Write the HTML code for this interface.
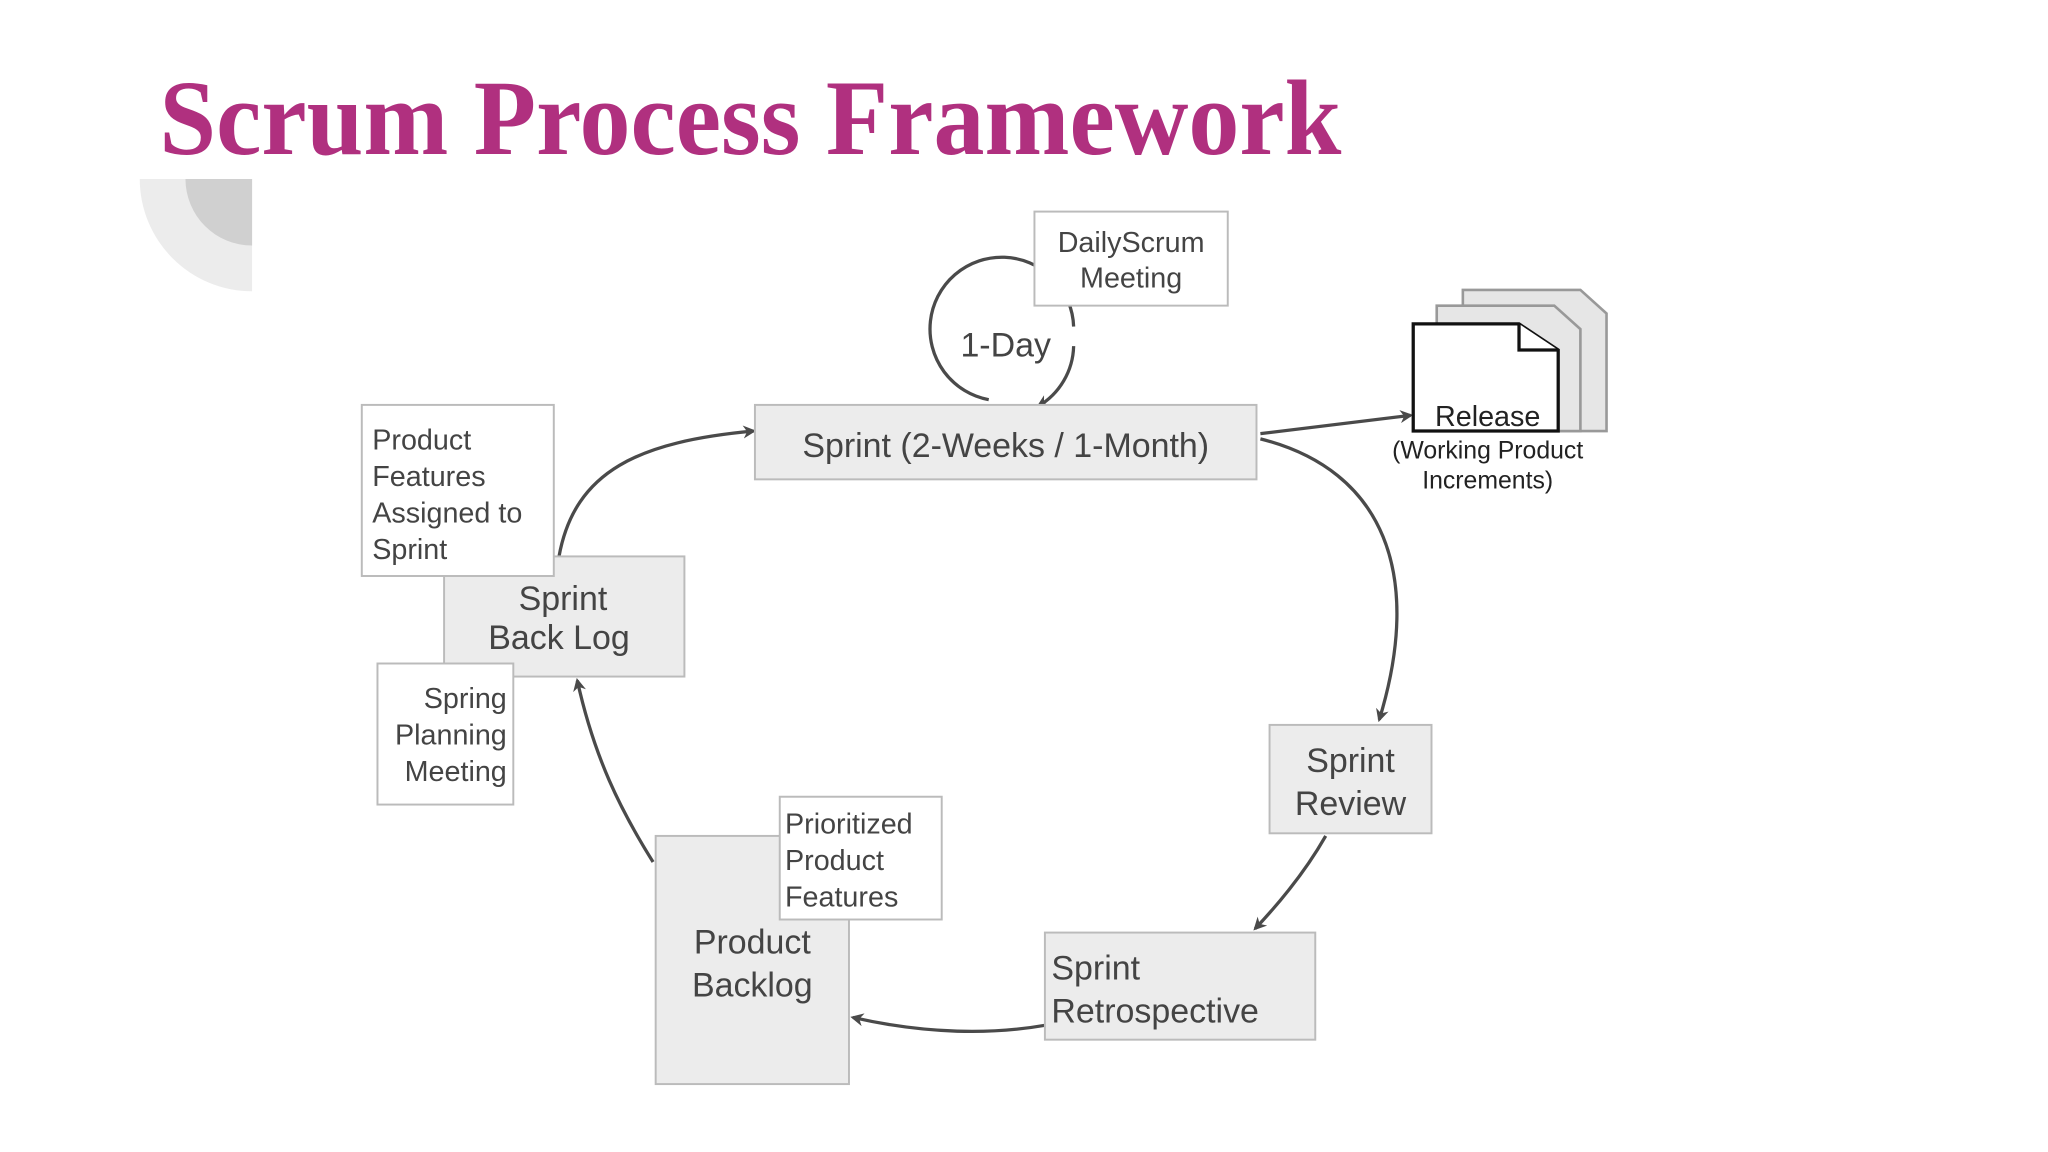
<!DOCTYPE html>
<html><head><meta charset="utf-8"><style>
html,body{margin:0;padding:0;background:#fff;}
svg{display:block;}
text{font-family:"Liberation Sans",sans-serif;fill:#444;}
</style></head><body>
<svg width="2048" height="1152" viewBox="0 0 1568 882" preserveAspectRatio="none" xmlns="http://www.w3.org/2000/svg">
<defs>
<marker id="a" markerWidth="10" markerHeight="10" refX="8" refY="5" orient="auto" markerUnits="userSpaceOnUse">
<path d="M0,0 L10,5 L0,10 L3,5 Z" fill="#4a4a4a"/></marker>
<clipPath id="q"><rect x="100" y="137" width="93" height="90"/></clipPath>
</defs>
<text x="122" y="118" style="font-family:'Liberation Serif',serif;font-weight:bold;fill:#b0307f" font-size="82" textLength="905" lengthAdjust="spacingAndGlyphs">Scrum Process Framework</text>
<g clip-path="url(#q)">
<circle cx="193" cy="137" r="86" fill="#ececec"/>
<circle cx="193" cy="137" r="51" fill="#d0d0d0"/>
</g>
<g fill="none" stroke="#4a4a4a" stroke-width="2.5">
<path d="M757,306 A55,55 0 1 1 822,250"/>
<path d="M822,265 A55,55 0 0 1 795,311" marker-end="url(#a)"/>
<path d="M965,332 L1080,318" marker-end="url(#a)"/>
<path d="M965,336 C1060,360 1090,440 1056,551" marker-end="url(#a)"/>
<path d="M1015,640 Q995,675 961,711" marker-end="url(#a)"/>
<path d="M800,785 C760,792 710,792 653,779" marker-end="url(#a)"/>
<path d="M500,660 C475,620 455,580 442,521" marker-end="url(#a)"/>
<path d="M428,426 C440,360 490,338 577,330" marker-end="url(#a)"/>
</g>
<rect x="792" y="162" width="148" height="72" fill="#fff" stroke="#bbb" stroke-width="1.5"/>
<text x="866" y="193" font-size="22" text-anchor="middle">DailyScrum</text>
<text x="866" y="220" font-size="22" text-anchor="middle">Meeting</text>
<text x="770" y="273" font-size="26" text-anchor="middle">1-Day</text>
<rect x="578" y="310" width="384" height="57" fill="#ececec" stroke="#bbb" stroke-width="1.5"/>
<text x="770" y="350" font-size="26" text-anchor="middle">Sprint (2-Weeks / 1-Month)</text>
<g stroke="#999" stroke-width="2">
<path d="M1120,222 L1210,222 L1230,240 L1230,330 L1120,330 Z" fill="#e6e6e6"/>
<path d="M1100,234 L1190,234 L1210,252 L1210,330 L1100,330 Z" fill="#e6e6e6"/>
</g>
<path d="M1082,248 L1163,248 L1193,268 L1193,330 L1082,330 Z" fill="#fff" stroke="#111" stroke-width="2.5"/>
<path d="M1163,248 L1163,268 L1193,268" fill="#fff" stroke="#111" stroke-width="2.5"/>
<text x="1139" y="326" font-size="22" text-anchor="middle" style="fill:#222">Release</text>
<text x="1139" y="351" font-size="19" text-anchor="middle" style="fill:#222">(Working Product</text>
<text x="1139" y="374" font-size="19" text-anchor="middle" style="fill:#222">Increments)</text>
<rect x="972" y="555" width="124" height="83" fill="#ececec" stroke="#bbb" stroke-width="1.5"/>
<text x="1034" y="591" font-size="26" text-anchor="middle">Sprint</text>
<text x="1034" y="624" font-size="26" text-anchor="middle">Review</text>
<rect x="800" y="714" width="207" height="82" fill="#ececec" stroke="#bbb" stroke-width="1.5"/>
<text x="805" y="750" font-size="26">Sprint</text>
<text x="805" y="783" font-size="26">Retrospective</text>
<rect x="502" y="640" width="148" height="190" fill="#ececec" stroke="#bbb" stroke-width="1.5"/>
<text x="576" y="730" font-size="26" text-anchor="middle">Product</text>
<text x="576" y="763" font-size="26" text-anchor="middle">Backlog</text>
<rect x="597" y="610" width="124" height="94" fill="#fff" stroke="#bbb" stroke-width="1.5"/>
<text x="601" y="638" font-size="22">Prioritized</text>
<text x="601" y="666" font-size="22">Product</text>
<text x="601" y="694" font-size="22">Features</text>
<rect x="340" y="426" width="184" height="92" fill="#ececec" stroke="#bbb" stroke-width="1.5"/>
<text x="431" y="467" font-size="26" text-anchor="middle">Sprint</text>
<text x="428" y="497" font-size="26" text-anchor="middle">Back Log</text>
<rect x="277" y="310" width="147" height="131" fill="#fff" stroke="#bbb" stroke-width="1.5"/>
<text x="285" y="344" font-size="22">Product</text>
<text x="285" y="372" font-size="22">Features</text>
<text x="285" y="400" font-size="22">Assigned to</text>
<text x="285" y="428" font-size="22">Sprint</text>
<rect x="289" y="508" width="104" height="108" fill="#fff" stroke="#bbb" stroke-width="1.5"/>
<text x="388" y="542" font-size="22" text-anchor="end">Spring</text>
<text x="388" y="570" font-size="22" text-anchor="end">Planning</text>
<text x="388" y="598" font-size="22" text-anchor="end">Meeting</text>
</svg>
</body></html>
